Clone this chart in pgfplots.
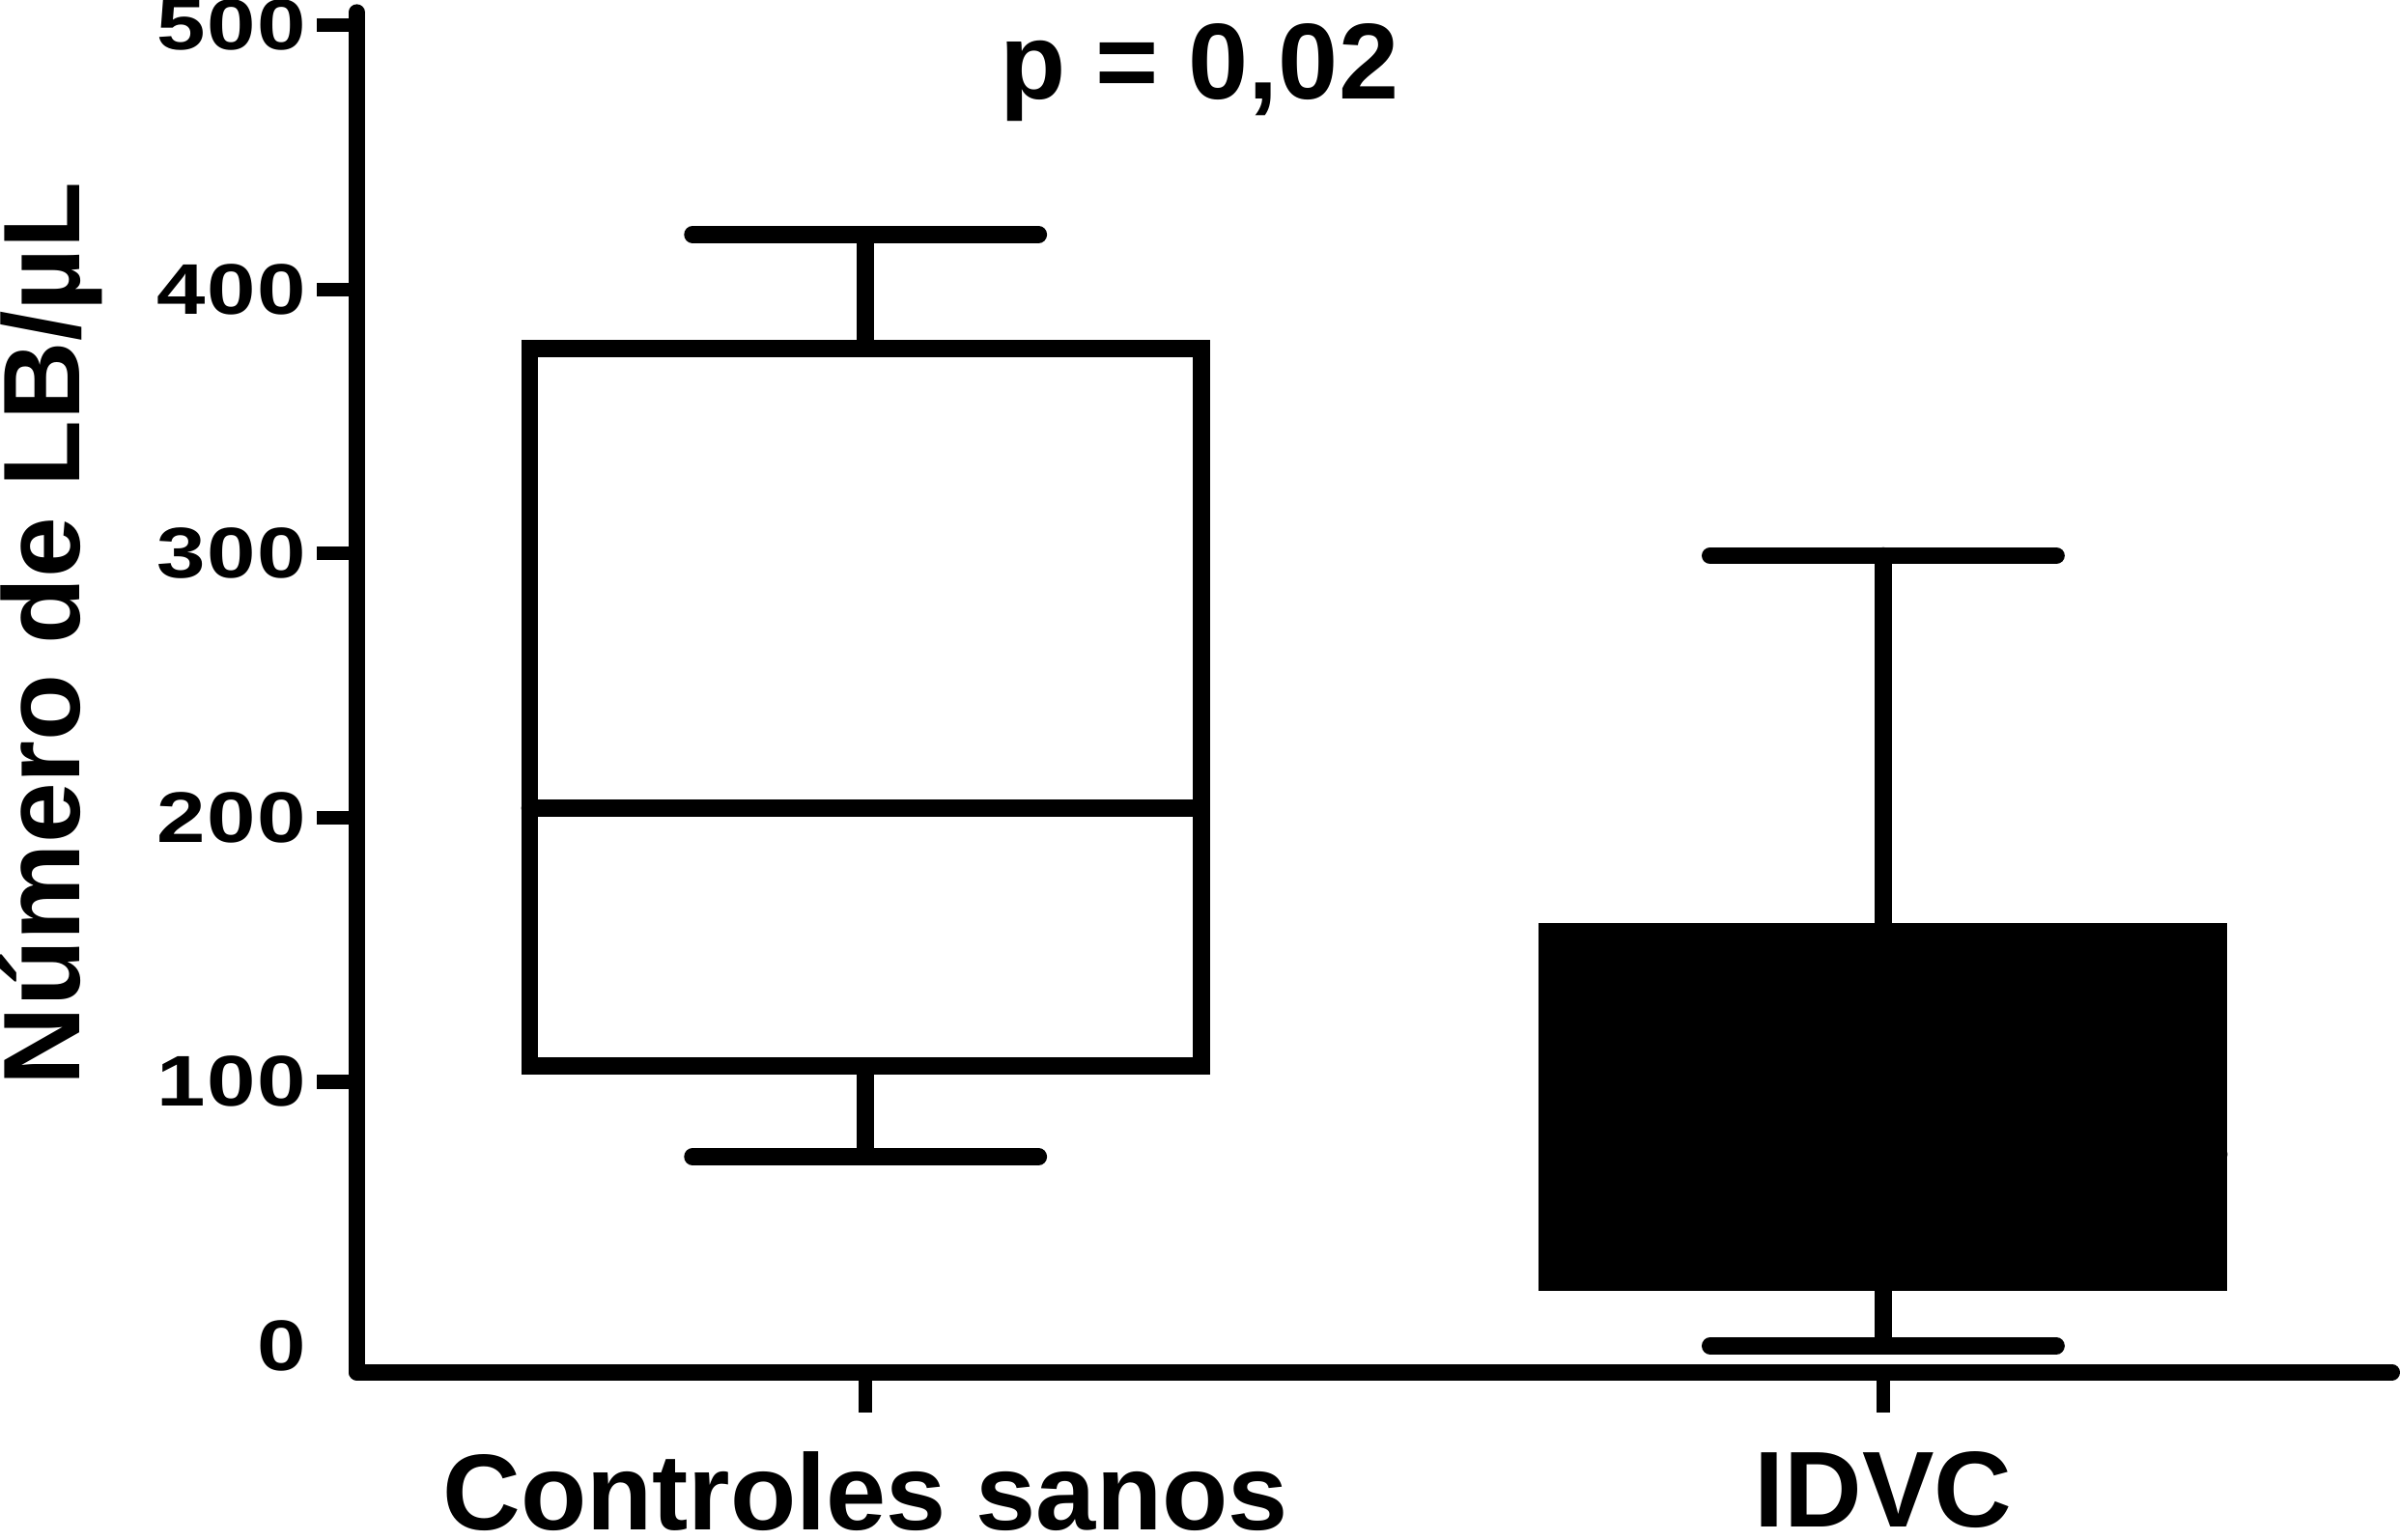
\documentclass[border=0pt]{standalone}
\usepackage{fontspec}
\setmainfont{Liberation Sans}
\newfontfamily\tickfont[FakeStretch=1.22, LetterSpace=2]{Liberation Sans}
\usepackage{pgfplots}
\pgfplotsset{compat=1.18}

\begin{document}
\begin{tikzpicture}
\begin{axis}[
    scale only axis,
    width=383pt, height=256pt,
    xmin=-0.5, xmax=1.5,
    ymin=-10, ymax=505,
    axis x line=bottom, axis y line=left,
    axis line style={-, line width=3pt, line cap=round},
    xtick={0,1},
    xticklabels={Controles sanos, IDVC},
    ytick={100,200,300,400,500},
    tick align=outside,
    major tick length=7.5pt,
    tick style={line width=2.6pt, black},
    xticklabel style={font=\fontsize{20.3}{22}\selectfont\bfseries,
        inner xsep=0pt, inner ysep=1.5pt, yshift=-5.8pt},
    yticklabel style={font=\fontsize{13.5}{15}\selectfont\tickfont\bfseries,
        inner ysep=0pt, xshift=1.5pt},
    /pgf/number format/assume math mode=true,
    ylabel={Número de LB/µL},
    ylabel style={font=\fontsize{20.5}{22}\selectfont\bfseries, inner sep=0pt,
        at={(axis description cs:-0.136,0.543)}, anchor=base},
    clip=false,
    every axis plot/.append style={line width=3.2pt, line cap=round},
]
% Controles sanos: whiskers 71.6 / 420.8, quartiles 105.9 / 377.7, median 203.5
\addplot[black] coordinates {(0,71.6) (0,105.9)};
\addplot[black] coordinates {(0,377.7) (0,420.8)};
\addplot[black] coordinates {(-0.17,71.6) (0.17,71.6)};
\addplot[black] coordinates {(-0.17,420.8) (0.17,420.8)};
\addplot[draw=black, fill=white, line join=miter]
    coordinates {(-0.33,105.9) (0.33,105.9) (0.33,377.7) (-0.33,377.7)} -- cycle;
\addplot[black] coordinates {(-0.33,203.5) (0.33,203.5)};

% IDVC: whiskers 0 / 299.2, quartiles 24 / 157, median 72.5
\addplot[black] coordinates {(1,0) (1,24)};
\addplot[black] coordinates {(1,157) (1,299.2)};
\addplot[black] coordinates {(0.83,0) (1.17,0)};
\addplot[black] coordinates {(0.83,299.2) (1.17,299.2)};
\addplot[draw=black, fill=black, line join=miter]
    coordinates {(0.67,24) (1.33,24) (1.33,157) (0.67,157)} -- cycle;
\addplot[black] coordinates {(0.67,72.5) (1.33,72.5)};

% y label 0 has no tick mark in the original
\node[font=\fontsize{13.5}{15}\selectfont\tickfont\bfseries, anchor=east, inner ysep=0pt]
    at (axis cs:-0.5,0) [xshift=-6pt] {0};

\node[font=\fontsize{20.3}{22}\selectfont\bfseries, anchor=base]
    at (axis cs:0.328,472) {p = 0,02};
\end{axis}
\end{tikzpicture}
\end{document}
